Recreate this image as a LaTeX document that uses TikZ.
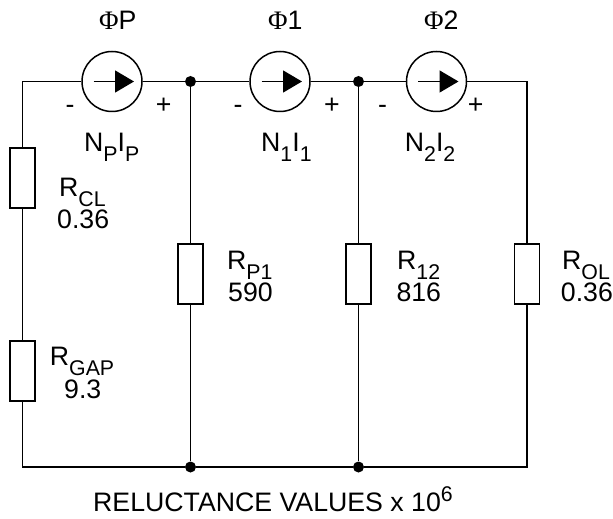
\documentclass[tikz,border=0pt]{standalone}
\usepackage{fontspec}
\setmainfont{Liberation Sans}
\newfontfamily\phifont{Liberation Serif}
\usetikzlibrary{arrows.meta,calc}
\newcommand{\sbs}[1]{\raisebox{-10bp}{\fontsize{21.3bp}{22bp}\selectfont #1}}
\newcommand{\sps}[1]{\raisebox{10bp}{\fontsize{21.3bp}{22bp}\selectfont #1}}
\tikzset{
  wire/.style={line width=1.5bp,black},
  src/.style={circle,draw,line width=1.5bp,minimum size=60bp,inner sep=0pt},
  res/.style={rectangle,draw,fill=white,line width=1.5bp,minimum width=25bp,minimum height=60bp,inner sep=0pt},
  dot/.style={circle,fill=black,minimum size=11bp,inner sep=0pt},
  lab/.style={anchor=base west,inner sep=0pt,font=\fontsize{26.7bp}{28bp}\selectfont},
  flow/.style={line width=1.5bp,-{Triangle[length=19bp,width=22bp]}},
}
\begin{document}
\begin{tikzpicture}[x=1bp,y=-1bp]
\useasboundingbox (0,0) rectangle (613,519);
\node[src] (sp) at (112,81.5) {};
\node[src] (s1) at (280,81.5) {};
\node[src] (s2) at (436.5,81.5) {};
\node[dot] (n1) at (190.5,81.5) {};
\node[dot] (n2) at (358.5,81.5) {};
\node[dot] (m1) at (190.5,467) {};
\node[dot] (m2) at (358.5,467) {};
\node[res] (rcl) at (22.5,178) {};
\node[res] (rgap) at (22.5,371) {};
\node[res] (rp1) at (190.5,274) {};
\node[res] (r12) at (358.5,274) {};
\node[res] (rol) at (527,274) {};
\draw[wire] (sp) -| (rcl.north);
\draw[wire] (rcl) -- (rgap);
\draw[wire] (rgap.south) |- (m1);
\draw[wire] (sp) -- (n1);
\draw[wire] (n1) -- (s1);
\draw[wire] (s1) -- (n2);
\draw[wire] (n2) -- (s2);
\draw[wire] (s2) -| (rol.north);
\draw[wire] (rol.south) |- (m2);
\draw[wire] (m1) -- (m2);
\draw[wire] (n1) -- (rp1);
\draw[wire] (rp1) -- (m1);
\draw[wire] (n2) -- (r12);
\draw[wire] (r12) -- (m2);
\foreach \s in {sp,s1,s2}{
  \draw[flow] ($(\s.center)+(-18.5,0)$) -- ($(\s.center)+(22,0)$);
}
\node[lab] (tp) at (99,29.5) {{\phifont Φ}P};
\node[lab] (t1) at (268,29.5) {{\phifont Φ}1};
\node[lab] (t2) at (424,29.5) {{\phifont Φ}2};
\node[lab] (m-a) at (65.5,114) {-};
\node[lab] (p-a) at (155.7,114) {+};
\node[lab] (m-b) at (233.5,114) {-};
\node[lab] (p-b) at (324,114) {+};
\node[lab] (m-c) at (378,114) {-};
\node[lab] (p-c) at (467.7,114) {+};
\node[lab] (np) at (84,152) {N\sbs{P}I\sbs{P}};
\node[lab] (n1l) at (261,152) {N\sbs{1}I\sbs{1}};
\node[lab] (n2l) at (404.7,152) {N\sbs{2}I\sbs{2}};
\node[lab] (rcla) at (59,197) {R\sbs{CL}};
\node[lab] (rclb) at (57,229) {0.36};
\node[lab] (rgapa) at (49.7,365) {R\sbs{GAP}};
\node[lab] (rgapb) at (64,398) {9.3};
\node[lab] (rp1a) at (227,269.3) {R\sbs{P1}};
\node[lab] (rp1b) at (228,301.7) {590};
\node[lab] (r12a) at (397,269.3) {R\sbs{12}};
\node[lab] (r12b) at (396.3,301.7) {816};
\node[lab] (rola) at (562,269.3) {R\sbs{OL}};
\node[lab] (rolb) at (560.7,301.7) {0.36};
\node[lab] (note) at (93,511.7) {RELUCTANCE VALUES x 10\sps{6}};
\end{tikzpicture}
\end{document}
